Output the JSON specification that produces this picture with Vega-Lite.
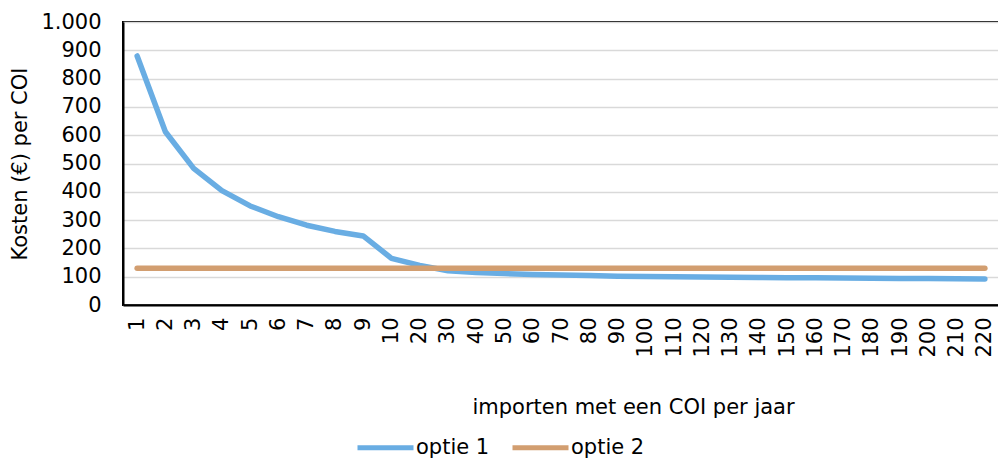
{
  "$schema": "https://vega.github.io/schema/vega-lite/v6.json",
  "width": 876,
  "height": 283,
  "autosize": "none",
  "padding": {"left": 123, "top": 22, "right": 0, "bottom": 155},
  "background": "white",
  "config": {
    "font": "DejaVu Sans",
    "view": {"stroke": "black", "strokeWidth": 2},
    "axis": {
      "labelFont": "DejaVu Sans",
      "titleFont": "DejaVu Sans",
      "labelFontSize": 21,
      "titleFontSize": 21,
      "labelColor": "#000000",
      "titleColor": "#000000",
      "titleFontWeight": "normal",
      "ticks": false,
      "domainColor": "#000000",
      "domainWidth": 2
    },
    "legend": {"labelFont": "DejaVu Sans", "labelFontSize": 21, "labelColor": "#000000"}
  },
  "data": {
    "values": [
      {"x": "1", "serie": "optie 1", "v": 880},
      {"x": "2", "serie": "optie 1", "v": 612},
      {"x": "3", "serie": "optie 1", "v": 483},
      {"x": "4", "serie": "optie 1", "v": 404},
      {"x": "5", "serie": "optie 1", "v": 350},
      {"x": "6", "serie": "optie 1", "v": 312},
      {"x": "7", "serie": "optie 1", "v": 282},
      {"x": "8", "serie": "optie 1", "v": 260},
      {"x": "9", "serie": "optie 1", "v": 244},
      {"x": "10", "serie": "optie 1", "v": 165},
      {"x": "20", "serie": "optie 1", "v": 140},
      {"x": "30", "serie": "optie 1", "v": 121},
      {"x": "40", "serie": "optie 1", "v": 115},
      {"x": "50", "serie": "optie 1", "v": 111},
      {"x": "60", "serie": "optie 1", "v": 108},
      {"x": "70", "serie": "optie 1", "v": 106},
      {"x": "80", "serie": "optie 1", "v": 104},
      {"x": "90", "serie": "optie 1", "v": 102},
      {"x": "100", "serie": "optie 1", "v": 101},
      {"x": "110", "serie": "optie 1", "v": 100},
      {"x": "120", "serie": "optie 1", "v": 99},
      {"x": "130", "serie": "optie 1", "v": 98},
      {"x": "140", "serie": "optie 1", "v": 97},
      {"x": "150", "serie": "optie 1", "v": 96.5},
      {"x": "160", "serie": "optie 1", "v": 96},
      {"x": "170", "serie": "optie 1", "v": 95},
      {"x": "180", "serie": "optie 1", "v": 94.5},
      {"x": "190", "serie": "optie 1", "v": 94},
      {"x": "200", "serie": "optie 1", "v": 93.5},
      {"x": "210", "serie": "optie 1", "v": 93},
      {"x": "220", "serie": "optie 1", "v": 92},
      {"x": "1", "serie": "optie 2", "v": 130},
      {"x": "2", "serie": "optie 2", "v": 130},
      {"x": "3", "serie": "optie 2", "v": 130},
      {"x": "4", "serie": "optie 2", "v": 130},
      {"x": "5", "serie": "optie 2", "v": 130},
      {"x": "6", "serie": "optie 2", "v": 130},
      {"x": "7", "serie": "optie 2", "v": 130},
      {"x": "8", "serie": "optie 2", "v": 130},
      {"x": "9", "serie": "optie 2", "v": 130},
      {"x": "10", "serie": "optie 2", "v": 130},
      {"x": "20", "serie": "optie 2", "v": 130},
      {"x": "30", "serie": "optie 2", "v": 130},
      {"x": "40", "serie": "optie 2", "v": 130},
      {"x": "50", "serie": "optie 2", "v": 130},
      {"x": "60", "serie": "optie 2", "v": 130},
      {"x": "70", "serie": "optie 2", "v": 130},
      {"x": "80", "serie": "optie 2", "v": 130},
      {"x": "90", "serie": "optie 2", "v": 130},
      {"x": "100", "serie": "optie 2", "v": 130},
      {"x": "110", "serie": "optie 2", "v": 130},
      {"x": "120", "serie": "optie 2", "v": 130},
      {"x": "130", "serie": "optie 2", "v": 130},
      {"x": "140", "serie": "optie 2", "v": 130},
      {"x": "150", "serie": "optie 2", "v": 130},
      {"x": "160", "serie": "optie 2", "v": 130},
      {"x": "170", "serie": "optie 2", "v": 130},
      {"x": "180", "serie": "optie 2", "v": 130},
      {"x": "190", "serie": "optie 2", "v": 130},
      {"x": "200", "serie": "optie 2", "v": 130},
      {"x": "210", "serie": "optie 2", "v": 130},
      {"x": "220", "serie": "optie 2", "v": 130}
    ]
  },
  "mark": {"type": "line", "strokeWidth": 5.5, "strokeCap": "round", "strokeJoin": "round"},
  "encoding": {
    "x": {
      "field": "x",
      "type": "ordinal",
      "sort": ["1","2","3","4","5","6","7","8","9","10","20","30","40","50","60","70","80","90","100","110","120","130","140","150","160","170","180","190","200","210","220"],
      "scale": {"type": "point", "padding": 0.5},
      "axis": {
        "title": "importen met een COI per jaar",
        "labelAngle": -90,
        "labelPadding": 12,
        "grid": false,
        "titleX": 510,
        "titleY": 108,
        "titleAnchor": "middle",
        "titleBaseline": "alphabetic"
      }
    },
    "y": {
      "field": "v",
      "type": "quantitative",
      "scale": {"domain": [0, 1000], "nice": false},
      "axis": {
        "title": "Kosten (€) per COI",
        "values": [0,100,200,300,400,500,600,700,800,900,1000],
        "labelExpr": "replace(format(datum.value, ','), ',', '.')",
        "labelPadding": 22,
        "titlePadding": 10,
        "gridColor": "#d9d9d9",
        "gridWidth": 1.5
      }
    },
    "color": {
      "field": "serie",
      "type": "nominal",
      "scale": {"domain": ["optie 1", "optie 2"], "range": ["#69ade3", "#d29e70"]},
      "legend": {
        "title": null,
        "orient": "none",
        "direction": "horizontal",
        "legendX": 232,
        "legendY": 395,
        "symbolType": "stroke",
        "symbolSize": 3136,
        "symbolStrokeWidth": 5,
        "labelOffset": 0,
        "columnPadding": 12
      }
    }
  }
}
